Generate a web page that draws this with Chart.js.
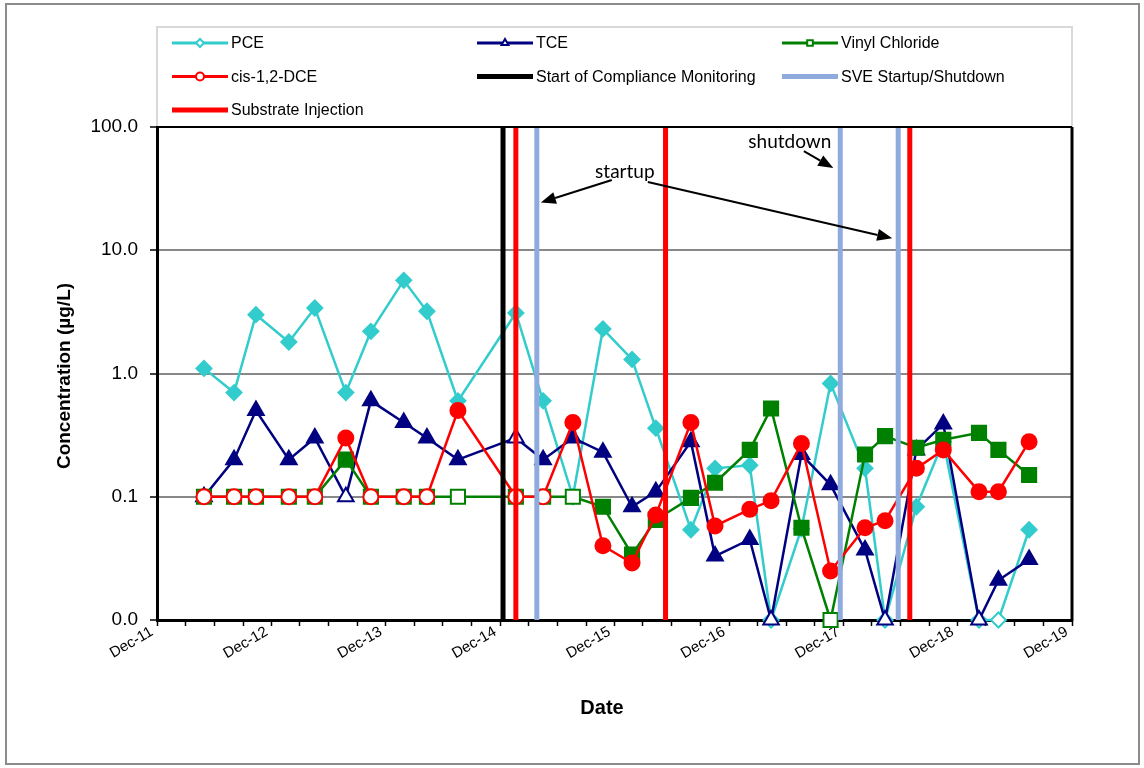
<!DOCTYPE html>
<html>
<head>
<meta charset="utf-8">
<script src="https://cdn.jsdelivr.net/npm/chart.js@4.4.0/dist/chart.umd.min.js"></script>
<style>
	html, body { margin: 0; padding: 0; background: #fff; }
	#wrap { width: 1144px; height: 768px; position: relative; }
</style>
</head>
<body>
<div id="wrap"><canvas id="grafico" width="1144" height="768"></canvas></div>
<script>
// Sampling events (dates) and results in ug/L
const sampleDates = [
	"2012-04-29", "2012-08-03", "2012-10-12", "2013-01-25", "2013-04-18", "2013-07-26",
	"2013-10-14", "2014-01-27", "2014-04-11", "2014-07-19", "2015-01-20", "2015-04-17",
	"2015-07-21", "2015-10-25", "2016-01-26", "2016-04-11", "2016-08-01", "2016-10-17",
	"2017-02-05", "2017-04-14", "2017-07-20", "2017-10-21", "2018-02-08", "2018-04-13",
	"2018-07-22", "2018-10-16", "2019-02-07", "2019-04-10", "2019-07-17"
];
const pce = [1.1, 0.7, 3.0, 1.8, 3.4, 0.7, 2.2, 5.7, 3.2, 0.6, 3.1, 0.6, 0.1, 2.3, 1.3, 0.36, 0.054, 0.17, 0.18, 0.01, 0.055, 0.83, 0.17, 0.01, 0.083, 0.28, 0.01, 0.01, 0.054];
const tce = [0.1, 0.2, 0.5, 0.2, 0.3, 0.1, 0.6, 0.4, 0.3, 0.2, 0.3, 0.2, 0.3, 0.23, 0.083, 0.11, 0.28, 0.033, 0.045, 0.01, 0.22, 0.125, 0.037, 0.01, 0.24, 0.39, 0.01, 0.021, 0.031];
const vinylChloride = [0.1, 0.1, 0.1, 0.1, 0.1, 0.2, 0.1, 0.1, 0.1, 0.1, 0.1, 0.1, 0.1, 0.083, 0.034, 0.065, 0.098, 0.13, 0.24, 0.52, 0.056, 0.01, 0.22, 0.31, 0.25, 0.29, 0.33, 0.24, 0.15];
const cisDce = [0.1, 0.1, 0.1, 0.1, 0.1, 0.3, 0.1, 0.1, 0.1, 0.5, 0.1, 0.1, 0.4, 0.04, 0.029, 0.071, 0.4, 0.058, 0.079, 0.093, 0.27, 0.025, 0.056, 0.064, 0.17, 0.24, 0.11, 0.11, 0.28];

// Non-detects (hollow markers), by sample index
const pceNonDetect = [12, 19, 23, 26, 27];
const tceNonDetect = [0, 5, 10, 19, 23, 26];
const vinylNonDetect = [0, 1, 2, 3, 4, 6, 7, 8, 9, 10, 11, 12, 21];
const cisDceNonDetect = [0, 1, 2, 3, 4, 6, 7, 8, 10, 11];

// Site events
const complianceDates = ["2014-12-10"];
const sveDates = ["2015-03-28", "2017-11-21", "2018-05-25"];
const injectionDates = ["2015-01-20", "2016-05-12", "2018-07-01"];

// Axes
const axisStart = "2011-12-01";
const axisEnd = "2019-12-01";
const yTicks = [0.01, 0.1, 1, 10, 100];
const monthNames = ["Jan", "Feb", "Mar", "Apr", "May", "Jun", "Jul", "Aug", "Sep", "Oct", "Nov", "Dec"];

// Notes on the chart
const startupLabel = { text: "startup", date: "2016-01-03", value: 38.6 };
const shutdownLabel = { text: "shutdown", date: "2017-06-13", value: 67.3 };

function toDays(s) {
	const p = s.split("-").map(Number);
	const b = axisStart.split("-").map(Number);
	return (Date.UTC(p[0], p[1] - 1, p[2]) - Date.UTC(b[0], b[1] - 1, b[2])) / 86400000;
}

function buildSeries(values) {
	return sampleDates.map((d, i) => ({ x: toDays(d), y: values[i] }));
}

function markerFill(values, nonDetect, color) {
	return values.map((v, i) => (nonDetect.includes(i) ? "#fff" : color));
}

function buildEventLines(dates) {
	const pts = [];
	dates.forEach((d) => {
		pts.push({ x: toDays(d), y: yTicks[0] });
		pts.push({ x: toDays(d), y: yTicks[yTicks.length - 1] });
		pts.push({ x: toDays(d), y: null });
	});
	return pts;
}

function quarterTicks() {
	const ticks = [];
	const b = axisStart.split("-").map(Number);
	const end = toDays(axisEnd);
	let y = b[0], m = b[1] - 1;
	while (true) {
		const d = (Date.UTC(y, m, 1) - Date.UTC(b[0], b[1] - 1, b[2])) / 86400000;
		if (d > end) break;
		ticks.push({ value: d, month: m, year: y });
		m += 3;
		if (m > 11) { m -= 12; y += 1; }
	}
	return ticks;
}

function seriesDataset(label, values, nonDetect, color, style, radius, order) {
	return {
		label: label,
		data: buildSeries(values),
		borderColor: color,
		backgroundColor: color,
		borderWidth: 2.5,
		pointStyle: style,
		pointRadius: radius,
		pointBorderWidth: 2,
		pointBorderColor: color,
		pointBackgroundColor: markerFill(values, nonDetect, color),
		tension: 0,
		clip: false,
		order: order,
		legendRadius: 4
	};
}

function eventDataset(label, dates, color, order) {
	return {
		label: label,
		data: buildEventLines(dates),
		borderColor: color,
		backgroundColor: color,
		borderWidth: 5,
		pointRadius: 0,
		spanGaps: false,
		order: order,
		pointStyle: false
	};
}

const quarterly = quarterTicks();

function drawArrow(ctx, x0, y0, x1, y1) {
	const ang = Math.atan2(y1 - y0, x1 - x0);
	const head = 15, half = 6;
	const bx = x1 - head * Math.cos(ang), by = y1 - head * Math.sin(ang);
	ctx.beginPath();
	ctx.moveTo(x0, y0);
	ctx.lineTo(bx, by);
	ctx.stroke();
	ctx.beginPath();
	ctx.moveTo(x1, y1);
	ctx.lineTo(bx + half * Math.sin(ang), by - half * Math.cos(ang));
	ctx.lineTo(bx - half * Math.sin(ang), by + half * Math.cos(ang));
	ctx.closePath();
	ctx.fill();
}

const decorPlugin = {
	id: "decor",
	beforeDraw(chart) {
		const ctx = chart.ctx;
		ctx.save();
		ctx.fillStyle = "#fff";
		ctx.fillRect(0, 0, chart.width, chart.height);
		ctx.strokeStyle = "#8c8c8c";
		ctx.lineWidth = 2;
		ctx.strokeRect(6, 4, 1133, 760);
		// legend frame
		ctx.strokeStyle = "#d9d9d9";
		ctx.strokeRect(157, 27, 915, 100);
		ctx.restore();
	},
	afterDatasetsDraw(chart) {
		const ctx = chart.ctx;
		const a = chart.chartArea;
		const xs = chart.scales.x, ys = chart.scales.y;
		ctx.save();
		ctx.strokeStyle = "#000";
		ctx.lineWidth = 2;
		ctx.beginPath();
		ctx.moveTo(a.left, a.top);
		ctx.lineTo(a.right, a.top);
		ctx.stroke();
		ctx.lineWidth = 3;
		ctx.beginPath();
		ctx.moveTo(a.right, a.top);
		ctx.lineTo(a.right, a.bottom + 1.5);
		ctx.stroke();

		// SVE annotations
		ctx.fillStyle = "#000";
		ctx.font = "19px Lato";
		ctx.textAlign = "center";
		ctx.textBaseline = "alphabetic";
		const sx = xs.getPixelForValue(toDays(startupLabel.date));
		const sy = ys.getPixelForValue(startupLabel.value);
		const hx = xs.getPixelForValue(toDays(shutdownLabel.date));
		const hy = ys.getPixelForValue(shutdownLabel.value);
		ctx.fillText(startupLabel.text, sx, sy);
		ctx.fillText(shutdownLabel.text, hx, hy);
		ctx.lineWidth = 2;
		drawArrow(ctx, sx - 13, sy + 2, xs.getPixelForValue(toDays(sveDates[0])) + 4, ys.getPixelForValue(24.4));
		drawArrow(ctx, sx + 23, sy + 4, xs.getPixelForValue(toDays(sveDates[2])) - 6, ys.getPixelForValue(12.5));
		drawArrow(ctx, hx + 14, hy + 3, xs.getPixelForValue(toDays(sveDates[1])) - 7, ys.getPixelForValue(46.4));
		ctx.restore();
	},
	afterDraw(chart) {
		const ctx = chart.ctx;
		ctx.save();
		// axis titles
		ctx.fillStyle = "#000";
		ctx.font = "bold 19px 'Liberation Sans', Arial, sans-serif";
		ctx.textAlign = "center";
		ctx.textBaseline = "middle";
		ctx.translate(65, 376);
		ctx.rotate(-Math.PI / 2);
		ctx.fillText("Concentration (\u00b5g/L)", 0, 0);
		ctx.restore();
		ctx.save();
		ctx.fillStyle = "#000";
		ctx.font = "bold 20px 'Liberation Sans', Arial, sans-serif";
		ctx.textAlign = "center";
		ctx.textBaseline = "middle";
		ctx.fillText("Date", 602, 708);

		// legend, three columns
		ctx.font = "16px 'Liberation Sans', Arial, sans-serif";
		ctx.textAlign = "left";
		chart.data.datasets.forEach((ds, i) => {
			const col = i % 3, row = Math.floor(i / 3);
			const x0 = 172 + col * 305, x1 = x0 + 56;
			const y = 43 + row * 33.5;
			ctx.strokeStyle = ds.borderColor;
			ctx.lineWidth = ds.pointStyle ? 3 : 5;
			ctx.beginPath();
			ctx.moveTo(x0, y);
			ctx.lineTo(x1, y);
			ctx.stroke();
			if (ds.pointStyle) {
				ctx.fillStyle = "#fff";
				ctx.lineWidth = 2;
				Chart.helpers.drawPoint(ctx, { pointStyle: ds.pointStyle, radius: ds.legendRadius, rotation: 0, borderWidth: 2 }, (x0 + x1) / 2, y);
			}
			ctx.fillStyle = "#000";
			ctx.fillText(ds.label, x1 + 3, y + 1);
		});
		ctx.restore();
	}
};

const ctx = document.getElementById("grafico").getContext("2d");
const grafico = new Chart(ctx, {
	type: "line",
	data: {
		datasets: [
			seriesDataset("PCE", pce, pceNonDetect, "#33CCCC", "rectRot", 7.5, 7),
			seriesDataset("TCE", tce, tceNonDetect, "#000080", "triangle", 9, 6),
			seriesDataset("Vinyl Chloride", vinylChloride, vinylNonDetect, "#008000", "rect", 10, 5),
			seriesDataset("cis-1,2-DCE", cisDce, cisDceNonDetect, "#FF0000", "circle", 7.5, 4),
			eventDataset("Start of Compliance Monitoring", complianceDates, "#000000", 3),
			eventDataset("SVE Startup/Shutdown", sveDates, "#8FAADC", 2),
			eventDataset("Substrate Injection", injectionDates, "#FF0000", 1)
		]
	},
	options: {
		responsive: false,
		animation: false,
		layout: { padding: { top: 127, right: 72, left: 0, bottom: 0 } },
		plugins: {
			legend: { display: false },
			tooltip: { enabled: false }
		},
		scales: {
			x: {
				type: "linear",
				min: toDays(axisStart),
				max: toDays(axisEnd),
				afterBuildTicks: (scale) => {
					scale.ticks = quarterly.map((t) => ({ value: t.value }));
				},
				afterFit: (scale) => {
					scale.height = 148;
				},
				grid: {
					drawOnChartArea: false,
					drawTicks: true,
					tickLength: 6,
					tickColor: "#000",
					tickWidth: 1.5
				},
				border: { display: true, color: "#000", width: 3 },
				ticks: {
					autoSkip: false,
					maxRotation: 30,
					minRotation: 30,
					padding: -3,
					labelOffset: -5,
					color: "#000",
					font: { family: "'Liberation Sans', Arial, sans-serif", size: 15 },
					callback: function (value) {
						const t = quarterly.find((q) => q.value === value);
						if (!t || t.month !== 11) return "";
						return monthNames[t.month] + "-" + String(t.year).slice(2);
					}
				}
			},
			y: {
				type: "logarithmic",
				min: yTicks[0],
				max: yTicks[yTicks.length - 1],
				afterBuildTicks: (scale) => {
					scale.ticks = yTicks.map((v) => ({ value: v }));
				},
				afterFit: (scale) => {
					scale.width = 157;
				},
				grid: {
					color: "#888888",
					lineWidth: 2,
					drawTicks: true,
					tickLength: 7,
					tickColor: "#000",
					tickWidth: 1.5
				},
				border: { display: true, color: "#000", width: 3 },
				ticks: {
					padding: 12,
					color: "#000",
					font: { family: "'Liberation Sans', Arial, sans-serif", size: 19 },
					callback: (value) => Number(value).toFixed(1)
				}
			}
		}
	},
	plugins: [decorPlugin]
});
</script>
</body>
</html>
